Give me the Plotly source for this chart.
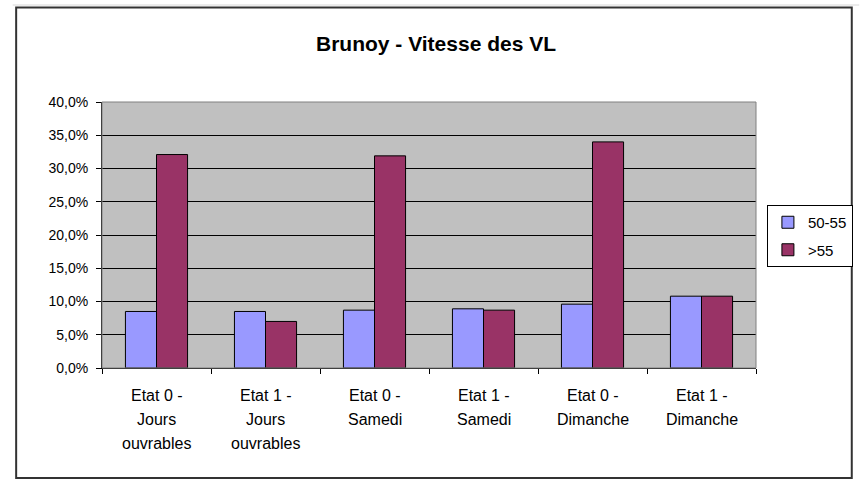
import plotly.graph_objects as go

categories = ["Etat 0 -<br>Jours<br>ouvrables", "Etat 1 -<br>Jours<br>ouvrables",
              "Etat 0 -<br>Samedi", "Etat 1 -<br>Samedi",
              "Etat 0 -<br>Dimanche", "Etat 1 -<br>Dimanche"]
cat_ids = ["c0", "c1", "c2", "c3", "c4", "c5"]
series_names = ["50-55", ">55"]
vals_50_55 = [0.085, 0.085, 0.087, 0.089, 0.096, 0.108]
vals_gt55 = [0.321, 0.070, 0.319, 0.087, 0.340, 0.108]
title_text = "Brunoy - Vitesse des VL"

FONT = "Liberation Sans, Arial, sans-serif"
W, H = 865, 482
L, R, T, B = 102, 761, 102, 368

fig = go.Figure()
fig.add_trace(go.Bar(x=cat_ids, y=vals_50_55, name=series_names[0],
                     marker=dict(color="#9999FF", line=dict(color="#000000", width=1)),
                     legendgroup="a"))
fig.add_trace(go.Bar(x=cat_ids, y=vals_gt55, name=series_names[1],
                     marker=dict(color="#993366", line=dict(color="#000000", width=1)),
                     legendgroup="b"))

pw, ph = R - L, B - T
def px(x):
    return (x - L) / pw
def py(y):
    return (B - y) / ph

annotations = []
for cid, lab in zip(cat_ids, categories):
    for i, line in enumerate(lab.split("<br>")):
        annotations.append(dict(x=cid, xref="x", y=0, yref="y", text=line,
                                showarrow=False, yanchor="middle", xanchor="center",
                                yshift=-(27 + 24 * i),
                                font=dict(family=FONT, size=16, color="#000000")))

fig.update_layout(
    width=W, height=H,
    margin=dict(l=L, r=W - R, t=T, b=H - B, pad=0),
    paper_bgcolor="#FFFFFF",
    plot_bgcolor="#C0C0C0",
    separators=", ",
    font=dict(family=FONT, size=14, color="#000000"),
    title=dict(text="<b>" + title_text + "</b>", x=436 / W, xanchor="center",
               y=1 - 44 / H, yanchor="middle",
               font=dict(family=FONT, size=21, color="#000000")),
    barmode="group",
    bargap=0.43,
    bargroupgap=0.0,
    showlegend=True,
    legend=dict(x=px(772), y=py(205), xanchor="left", yanchor="top",
                bordercolor="#000000", borderwidth=1, bgcolor="#FFFFFF",
                font=dict(family=FONT, size=15, color="#000000"),
                tracegroupgap=5, itemwidth=30),
    annotations=annotations,
    shapes=[
        dict(type="line", xref="paper", yref="paper",
             x0=px(12), x1=px(865), y0=py(5), y1=py(5),
             line=dict(color="#D8D8D8", width=1), layer="below"),
        dict(type="rect", xref="paper", yref="paper", x0=0, x1=1, y0=0, y1=1,
             line=dict(color="#808080", width=1), layer="above"),
        dict(type="rect", xref="paper", yref="paper",
             x0=px(15.5), x1=px(857.5), y0=py(478), y1=py(7.5),
             line=dict(color="#333333", width=2), layer="above"),
    ],
)

fig.update_xaxes(
    type="category",
    showticklabels=False,
    tickson="boundaries",
    ticks="outside", ticklen=5, tickcolor="#000000", tickwidth=1,
    showline=True, linecolor="#000000", linewidth=1,
    showgrid=False, zeroline=False,
)
fig.update_yaxes(
    range=[0, 0.4], dtick=0.05, tick0=0, tickformat=".1%",
    ticks="outside", ticklen=5, tickcolor="#000000", tickwidth=1,
    showline=True, linecolor="#000000", linewidth=1,
    showgrid=True, gridcolor="#000000", gridwidth=1,
    zeroline=False, ticklabelstandoff=5,
    tickfont=dict(family=FONT, size=14, color="#000000"),
)

fig.write_html("out.html", config={"displayModeBar": False},
               post_script="document.body.style.margin='0';document.body.style.padding='0';")
